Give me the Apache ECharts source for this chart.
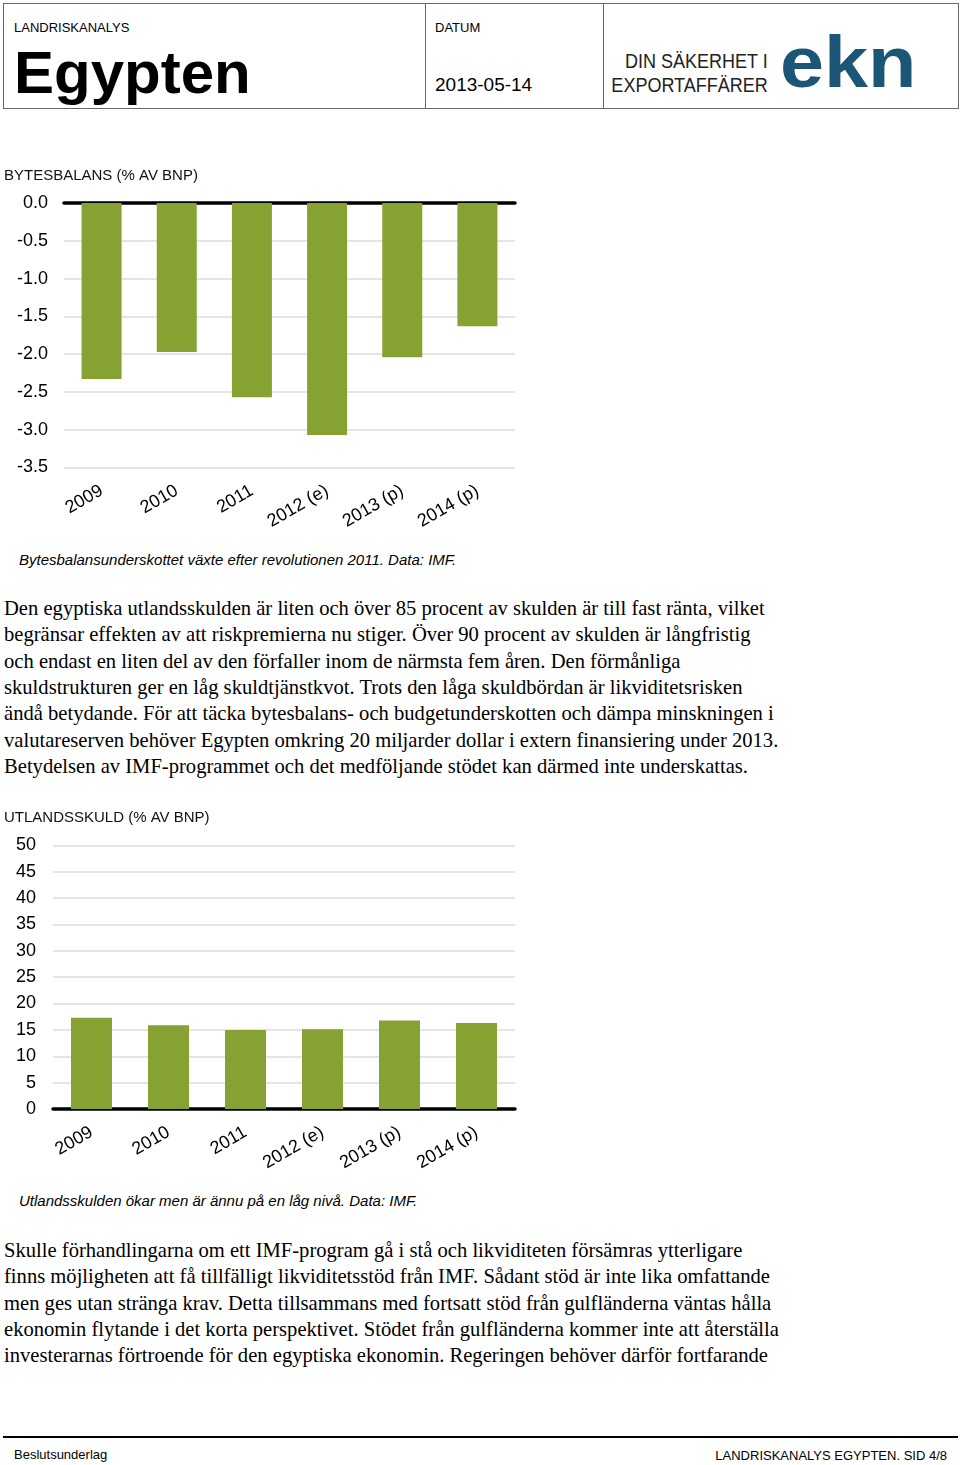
<!DOCTYPE html>
<html>
<head>
<meta charset="utf-8">
<script src="https://cdn.jsdelivr.net/npm/echarts@6/dist/echarts.min.js"></script>
<style>
    body { margin: 0; background: #fff; }
    #page { position: relative; width: 960px; height: 1465px; overflow: hidden; font-family: 'Liberation Sans', Arial, sans-serif; color: #000; }
    .abs { position: absolute; white-space: nowrap; }
    .box { position: absolute; top: 3px; height: 106px; border: 1px solid #666; box-sizing: border-box; }
    .body-line { position: absolute; left: 4px; white-space: nowrap; font-family: 'Liberation Serif', 'Times New Roman', serif; font-size: 20.6px; line-height: 26px; }
    .caption { position: absolute; left: 19px; font-style: italic; font-size: 15px; white-space: nowrap; }
</style>
</head>
<body>
<div id="page">
    <!-- Header -->
    <div class="box" style="left:3px; width:423px;"></div>
    <div class="box" style="left:425px; width:179px;"></div>
    <div class="box" style="left:603px; width:356px;"></div>
    <div class="abs" style="left:14px; top:20px; font-size:13px;">LANDRISKANALYS</div>
    <div class="abs" style="left:14px; top:38px; font-size:60px; font-weight:bold; line-height:70px;">Egypten</div>
    <div class="abs" style="left:435px; top:20px; font-size:13px;">DATUM</div>
    <div class="abs" style="left:435px; top:74px; font-size:19px;">2013-05-14</div>
    <div class="abs" style="right:192px; top:49px; font-size:20px; line-height:24px; text-align:right; color:#222; transform:scaleX(0.9); transform-origin:right;">DIN SÄKERHET I<br>EXPORTAFFÄRER</div>
    <div class="abs" style="left:780px; top:20px; font-size:72px; font-weight:bold; line-height:84px; color:#1b5676; transform:scaleX(1.1); transform-origin:left;">ekn</div>

    <!-- Chart 1 -->
    <div id="chart1" class="abs" style="left:0; top:160px; width:530px; height:390px;"></div>
    <div class="caption" style="top:551px;">Bytesbalansunderskottet växte efter revolutionen 2011. Data: IMF.</div>

    <div id="para1"></div>

    <!-- Chart 2 -->
    <div id="chart2" class="abs" style="left:0; top:800px; width:530px; height:390px;"></div>
    <div class="caption" style="top:1192px;">Utlandsskulden ökar men är ännu på en låg nivå. Data: IMF.</div>

    <div id="para2"></div>

    <!-- Footer -->
    <div class="abs" style="left:3px; top:1436px; width:955px; height:2px; background:#000;"></div>
    <div class="abs" style="left:14px; top:1447px; font-size:13px;">Beslutsunderlag</div>
    <div class="abs" style="right:13px; top:1448px; font-size:13px;">LANDRISKANALYS EGYPTEN. SID 4/8</div>
</div>

<script>
    // Data
    const years = ['2009', '2010', '2011', '2012 (e)', '2013 (p)', '2014 (p)']
    const bytesbalans = [-2.33, -1.97, -2.57, -3.07, -2.04, -1.63]
    const utlandsskuld = [17.3, 15.9, 15.0, 15.1, 16.8, 16.3]

    const title1 = 'BYTESBALANS (% AV BNP)'
    const title2 = 'UTLANDSSKULD (% AV BNP)'

    const para1 = [
        'Den egyptiska utlandsskulden är liten och över 85 procent av skulden är till fast ränta, vilket',
        'begränsar effekten av att riskpremierna nu stiger. Över 90 procent av skulden är långfristig',
        'och endast en liten del av den förfaller inom de närmsta fem åren. Den förmånliga',
        'skuldstrukturen ger en låg skuldtjänstkvot. Trots den låga skuldbördan är likviditetsrisken',
        'ändå betydande. För att täcka bytesbalans- och budgetunderskotten och dämpa minskningen i',
        'valutareserven behöver Egypten omkring 20 miljarder dollar i extern finansiering under 2013.',
        'Betydelsen av IMF-programmet och det medföljande stödet kan därmed inte underskattas.'
    ]
    const para2 = [
        'Skulle förhandlingarna om ett IMF-program gå i stå och likviditeten försämras ytterligare',
        'finns möjligheten att få tillfälligt likviditetsstöd från IMF. Sådant stöd är inte lika omfattande',
        'men ges utan stränga krav. Detta tillsammans med fortsatt stöd från gulfländerna väntas hålla',
        'ekonomin flytande i det korta perspektivet. Stödet från gulfländerna kommer inte att återställa',
        'investerarnas förtroende för den egyptiska ekonomin. Regeringen behöver därför fortfarande'
    ]

    // Body text, one div per line to keep the line breaks
    const writeLines = (id, lines, top) => {
        const el = document.getElementById(id)
        lines.forEach((line, i) => {
            const d = document.createElement('div')
            d.className = 'body-line'
            d.style.top = (top + i * 26.3) + 'px'
            d.textContent = line
            el.appendChild(d)
        })
    }
    writeLines('para1', para1, 595)
    writeLines('para2', para2, 1237)

    const green = '#86a232'
    const font = 'Liberation Sans, Arial, sans-serif'
    const axisLabel = { color: '#000', fontSize: 18, fontFamily: font }
    const titleStyle = { fontSize: 15, fontWeight: 'normal', color: '#111', fontFamily: font }

    // Chart 1: current account, bars hang from the zero line at the top
    const chart1 = echarts.init(document.getElementById('chart1'))
    chart1.setOption({
        animation: false,
        title: { text: title1, left: 4, top: 8, padding: 0, textStyle: titleStyle },
        grid: { left: 64, top: 43, width: 451, height: 264.5 },
        xAxis: [{
            type: 'category',
            data: years,
            position: 'bottom',
            axisLine: { show: false, onZero: false },
            axisTick: { show: false },
            axisLabel: { ...axisLabel, rotate: 30, margin: 22, interval: 0 }
        }, {
            type: 'category',
            data: years,
            position: 'top',
            axisLine: { show: true, onZero: false, lineStyle: { color: '#000', width: 3.5 } },
            axisTick: { show: false },
            axisLabel: { show: false }
        }],
        yAxis: {
            type: 'value',
            min: -3.5,
            max: 0,
            interval: 0.5,
            axisLine: { show: false },
            axisTick: { show: false },
            axisLabel: { ...axisLabel, margin: 16, formatter: v => v.toFixed(1) },
            splitLine: { lineStyle: { color: '#dcdcdc', width: 1.5 } }
        },
        series: [{
            type: 'bar',
            data: bytesbalans,
            barWidth: 40,
            itemStyle: { color: green }
        }]
    })

    // Chart 2: external debt
    const chart2 = echarts.init(document.getElementById('chart2'))
    chart2.setOption({
        animation: false,
        title: { text: title2, left: 4, top: 10, padding: 0, textStyle: titleStyle },
        grid: { left: 53, top: 45.3, width: 462, height: 263.7 },
        xAxis: {
            type: 'category',
            data: years,
            axisLine: { show: true, lineStyle: { color: '#000', width: 3.5 } },
            axisTick: { show: false },
            axisLabel: { ...axisLabel, rotate: 30, margin: 22, interval: 0 }
        },
        yAxis: {
            type: 'value',
            min: 0,
            max: 50,
            interval: 5,
            axisLine: { show: false },
            axisTick: { show: false },
            axisLabel: { ...axisLabel, margin: 17 },
            splitLine: { lineStyle: { color: '#dcdcdc', width: 1.5 } }
        },
        series: [{
            type: 'bar',
            data: utlandsskuld,
            barWidth: 41,
            itemStyle: { color: green }
        }]
    })
</script>
</body>
</html>
